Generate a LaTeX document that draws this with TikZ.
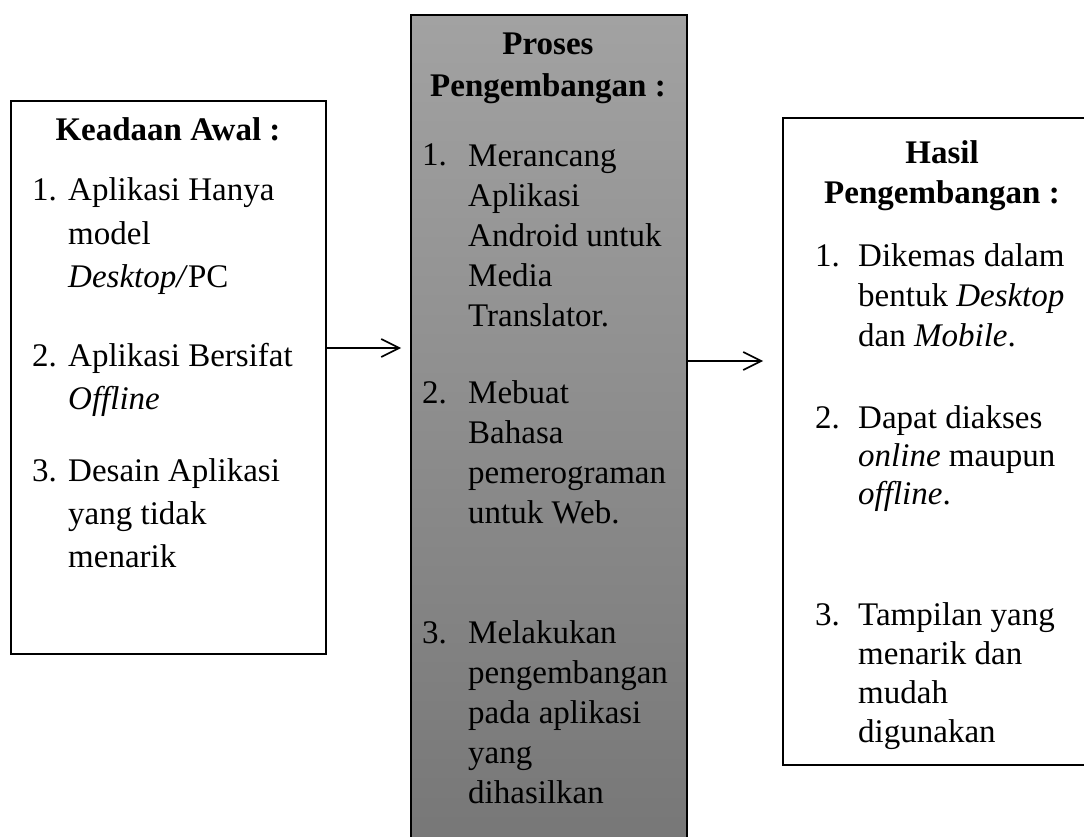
\documentclass[tikz,border=0pt]{standalone}
\usepackage{fontspec}
\setmainfont{Liberation Serif}
\usetikzlibrary{arrows.meta}
\definecolor{gtop}{RGB}{162,162,162}
\definecolor{gbot}{RGB}{118,118,118}
\begin{document}
\begin{tikzpicture}[x=1pt,y=-1pt,
  boxst/.style={draw=black, line width=1.6pt, inner sep=0pt, anchor=north west},
  ttl/.style={font=\fontsize{33}{#1}\selectfont\bfseries, align=center, anchor=base, inner sep=0pt},
  num/.style={font=\fontsize{33}{40}\selectfont, anchor=base west, inner sep=0pt},
  itm/.style={font=\fontsize{33}{#1}\selectfont, align=left, anchor=base west, inner sep=0pt},
  arr/.style={line width=1.6pt, -{Straight Barb[length=18pt,width=18pt,line width=1.6pt]}}]
\useasboundingbox (0,0) rectangle (1084,837);
\clip (0,0) rectangle (1084,837);
% boxes
\node[boxst, minimum width=315pt, minimum height=553pt] (awal) at (10,100) {};
\node[boxst, top color=gtop, bottom color=gbot, minimum width=276pt, minimum height=850pt] (proses) at (410,14) {};
\node[boxst, minimum width=330pt, minimum height=647pt] (hasil) at (782,117) {};
% left box text (node positions are last-line baselines)
\node[ttl=42] (t1) at (168,141) {Keadaan Awal :};
\node[num] (n11) at (32,201) {1.};
\node[itm=43] (i11) at (68,287) {Aplikasi Hanya\\model\\\textit{Desktop/}PC};
\node[num] (n12) at (32,366) {2.};
\node[itm=43] (i12) at (68,409) {Aplikasi Bersifat\\\textit{Offline}};
\node[num] (n13) at (32,481) {3.};
\node[itm=43] (i13) at (68,567) {Desain Aplikasi\\yang tidak\\menarik};
% middle box text
\node[ttl=42] (t2) at (548,97) {Proses\\Pengembangan :};
\node[num] (n21) at (422,166) {1.};
\node[itm=40] (i21) at (468,326) {Merancang\\Aplikasi\\Android untuk\\Media\\Translator.};
\node[num] (n22) at (422,403) {2.};
\node[itm=40] (i22) at (468,523) {Mebuat\\Bahasa\\pemerograman\\untuk Web.};
\node[num] (n23) at (422,643) {3.};
\node[itm=40] (i23) at (468,803) {Melakukan\\pengembangan\\pada aplikasi\\yang\\dihasilkan};
% right box text
\node[ttl=40] (t3) at (942,204) {Hasil\\Pengembangan :};
\node[num] (n31) at (815,266) {1.};
\node[itm=40] (i31) at (858,346) {Dikemas dalam\\bentuk \textit{Desktop}\\dan \textit{Mobile}.};
\node[num] (n32) at (815,428) {2.};
\node[itm=38] (i32) at (858,504) {Dapat diakses\\\textit{online} maupun\\\textit{offline}.};
\node[num] (n33) at (815,625) {3.};
\node[itm=39] (i33) at (858,742) {Tampilan yang\\menarik dan\\mudah\\digunakan};
% arrows
\coordinate (e1) at (401,348);
\coordinate (e2) at (763,361);
\draw[arr] (awal.east |- e1) -- (e1);
\draw[arr] (proses.east |- e2) -- (e2);
\end{tikzpicture}
\end{document}
